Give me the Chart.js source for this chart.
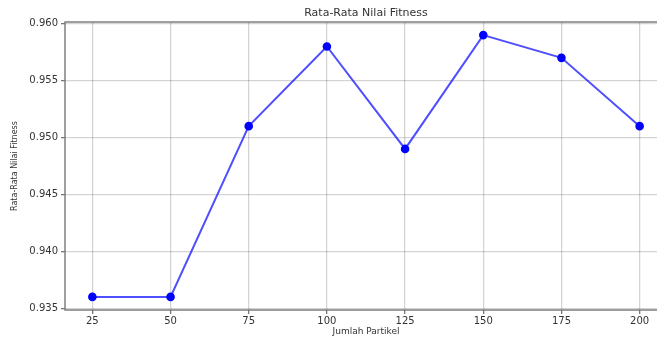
<!DOCTYPE html>
<html>
<head>
<meta charset="utf-8">
<script src="https://cdn.jsdelivr.net/npm/chart.js@4/dist/chart.umd.min.js"></script>
<style>
  html, body { margin: 0; padding: 0; background: #fff; overflow: hidden; }
  #wrap { width: 680px; height: 338px; }
</style>
</head>
<body>
<div id="wrap"><canvas id="chart" width="680" height="338"></canvas></div>
<script>
// data
const particles = [25, 50, 75, 100, 125, 150, 175, 200];
const fitness = [0.936, 0.936, 0.951, 0.958, 0.949, 0.959, 0.957, 0.951];
const yTicks = [0.935, 0.940, 0.945, 0.950, 0.955, 0.960];

const FONT = "'DejaVu Sans', sans-serif";

// matplotlib-style box around the plot area
const frame = {
    id: 'frame',
    afterDraw(chart) {
        const { ctx, chartArea: a } = chart;
        ctx.save();
        ctx.strokeStyle = '#777';
        ctx.lineWidth = 1.4;
        ctx.strokeRect(a.left, a.top, a.right - a.left, a.bottom - a.top);
        ctx.restore();
    }
};

new Chart(document.getElementById('chart'), {
    type: 'line',
    data: {
        datasets: [{
            data: particles.map((x, i) => ({ x, y: fitness[i] })),
            borderColor: 'rgba(20, 20, 255, 0.75)',
            borderWidth: 2,
            pointBackgroundColor: '#0000ff',
            pointBorderColor: '#0000ff',
            pointRadius: 3.3,
            tension: 0,
        }]
    },
    options: {
        responsive: false,
        animation: false,
        layout: { padding: { left: 0, right: 13, top: 0, bottom: 0 } },
        plugins: {
            legend: { display: false },
            tooltip: { enabled: false },
            title: {
                display: true,
                fullSize: false,
                text: 'Rata-Rata Nilai Fitness',
                color: '#333',
                font: { family: FONT, size: 11, weight: 'normal' },
                padding: { top: 6.6, bottom: 2.2 }
            }
        },
        scales: {
            x: {
                type: 'linear',
                min: 16.25,
                max: 208.75,
                afterBuildTicks: s => { s.ticks = particles.map(v => ({ value: v })); },
                afterFit: s => { s.height = 28; },
                ticks: { color: '#333', font: { family: FONT, size: 10 }, padding: 1, maxRotation: 0 },
                grid: { color: 'rgba(0,0,0,0.17)', lineWidth: 1.3, tickLength: 4, tickColor: '#777' },
                border: { display: false },
                title: {
                    display: true,
                    text: 'Jumlah Partikel',
                    color: '#333',
                    font: { family: FONT, size: 9 },
                    padding: { top: 0, bottom: 0.6 }
                }
            },
            y: {
                min: 0.93485,
                max: 0.96015,
                afterBuildTicks: s => { s.ticks = yTicks.map(v => ({ value: v })); },
                afterFit: s => { s.width = 65; },
                ticks: {
                    color: '#333',
                    font: { family: FONT, size: 10 },
                    padding: 3,
                    callback: v => v.toFixed(3)
                },
                grid: { color: 'rgba(0,0,0,0.17)', lineWidth: 1.3, tickLength: 4, tickColor: '#777' },
                border: { display: false },
                title: {
                    display: true,
                    text: 'Rata-Rata Nilai Fitness',
                    color: '#333',
                    font: { family: FONT, size: 8 },
                    padding: { top: 10.5, bottom: 0 }
                }
            }
        }
    },
    plugins: [frame]
});
</script>
</body>
</html>
